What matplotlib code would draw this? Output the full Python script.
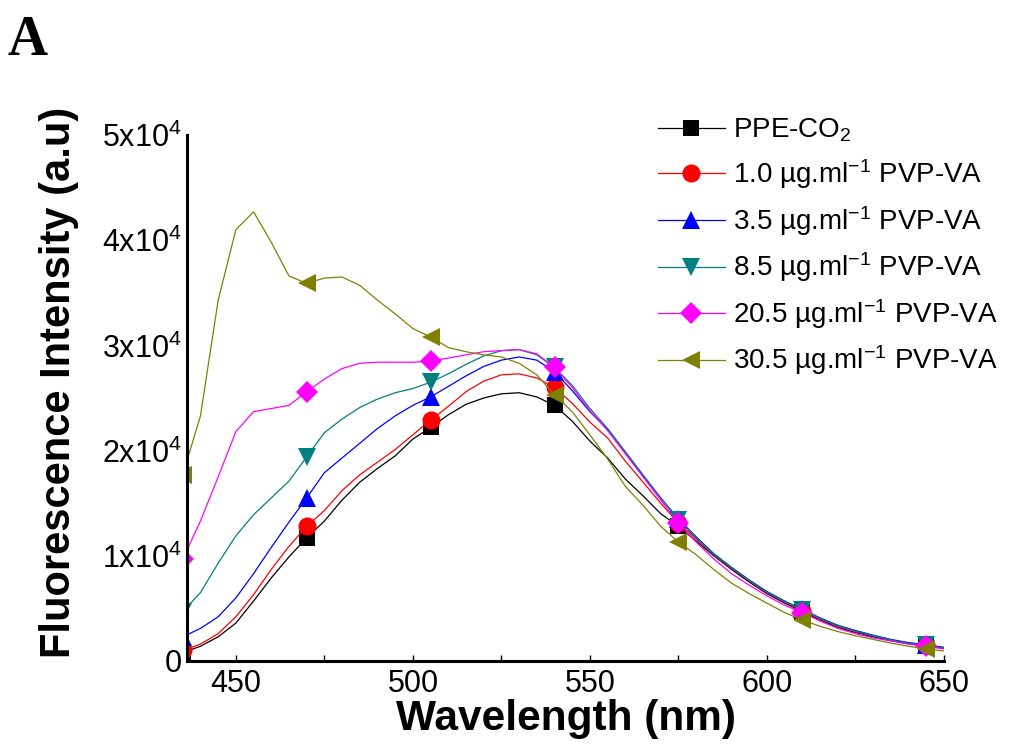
import numpy as np
import matplotlib
matplotlib.use("Agg")
import matplotlib.pyplot as plt
from matplotlib.ticker import FixedLocator, FuncFormatter

plt.rcParams['font.family'] = ['Liberation Sans', 'DejaVu Sans']
plt.rcParams['mathtext.fontset'] = 'custom'
plt.rcParams['mathtext.rm'] = 'Liberation Sans'
plt.rcParams['mathtext.it'] = 'Liberation Sans:italic'
plt.rcParams['mathtext.bf'] = 'Liberation Sans:bold'

# wavelength grid (nm), markers every 35 nm
wavelength = list(range(435, 651, 5))

ppe_co2 = [800, 1400, 2300, 3600, 5700, 7900, 9900, 11700, 13300, 15300, 17000,
           18300, 19500, 21100, 22200, 23400, 24400, 25000, 25400, 25500, 25100,
           24300, 22800, 20900, 19300, 17300, 15700, 14000, 12800, 11400, 10000,
           8700, 7500, 6400, 5500, 4700, 3900, 3200, 2700, 2300, 1950, 1650, 1450, 1200]
pvp_1_0 = [1000, 1600, 2600, 4200, 6300, 8700, 10900, 12800, 14300, 16200, 17700,
           18900, 20100, 21500, 22900, 24200, 25600, 26600, 27200, 27300, 26900,
           26000, 24500, 22700, 21200, 19000, 17000, 15000, 13100, 11600, 10100,
           8800, 7600, 6500, 5600, 4800, 4000, 3300, 2800, 2400, 2000, 1700, 1500, 1250]
pvp_3_5 = [2300, 3100, 4200, 6000, 8300, 10800, 13200, 15500, 17900, 19300, 20700,
           22100, 23300, 24300, 25100, 26100, 27100, 28000, 28600, 28900, 28600,
           27500, 25700, 23700, 22000, 19800, 17600, 15500, 13500, 11800, 10200,
           8900, 7700, 6600, 5700, 4900, 4100, 3400, 2900, 2450, 2050, 1750, 1550, 1300]
pvp_8_5 = [4700, 6500, 9300, 11900, 13900, 15500, 17100, 19400, 21700, 23000, 24100,
           24900, 25500, 25900, 26500, 27300, 28200, 29000, 29500, 29600, 29100,
           27900, 26200, 24000, 22100, 19900, 17700, 15500, 13400, 11700, 10150,
           8850, 7650, 6550, 5650, 4850, 4050, 3350, 2850, 2400, 2000, 1700, 1500, 1250]
pvp_20_5 = [9700, 13300, 17500, 21800, 23700, 24000, 24300, 25600, 26800, 27800, 28300,
            28400, 28400, 28400, 28500, 28800, 29100, 29400, 29500, 29600, 29200,
            27900, 26000, 23800, 21900, 19700, 17500, 15300, 13100, 11300, 9700,
            8300, 7200, 6200, 5300, 4600, 3800, 3100, 2600, 2200, 1900, 1600, 1400, 1150]
pvp_30_5 = [17700, 23300, 34300, 41000, 42700, 39800, 36600, 35900, 36400, 36500, 35700,
            34300, 33000, 31600, 30800, 29800, 29400, 29100, 28900, 28300, 27200,
            25300, 23700, 21500, 19200, 16600, 14800, 12800, 11300, 10100, 8700,
            7400, 6400, 5500, 4600, 3900, 3300, 2800, 2400, 2050, 1700, 1400, 1150, 950]

series = [ppe_co2, pvp_1_0, pvp_3_5, pvp_8_5, pvp_20_5, pvp_30_5]
labels = ['PPE-CO$_2$',
          '1.0 µg.ml$^{-1}$ PVP-VA',
          '3.5 µg.ml$^{-1}$ PVP-VA',
          '8.5 µg.ml$^{-1}$ PVP-VA',
          '20.5 µg.ml$^{-1}$ PVP-VA',
          '30.5 µg.ml$^{-1}$ PVP-VA']
colors = ['#000000', '#ff0000', '#0000ff', '#008080', '#ff00ff', '#808000']
markers = ['s', 'o', '^', 'v', 'D', '<']
msizes = [11, 13, 13, 13, 11, 13]

fig = plt.figure(figsize=(10.10, 7.46), dpi=100)
ax = fig.add_axes([187 / 1010, 85 / 746, (944 - 187) / 1010, (661 - 135) / 746])

for y, lab, c, m, ms in zip(series, labels, colors, markers, msizes):
    ax.plot(wavelength, y, color=c, lw=0.9, marker=m, markersize=ms,
            markevery=7, markeredgewidth=0, label=lab,
            solid_joinstyle='round')

ax.set_xlim(436.2, 650)
ax.set_ylim(0, 50000)

ax.spines['top'].set_visible(False)
ax.spines['right'].set_visible(False)
ax.spines['left'].set_linewidth(2.2)
ax.spines['bottom'].set_linewidth(2.2)

ax.xaxis.set_major_locator(FixedLocator([450, 500, 550, 600, 650]))
ax.xaxis.set_minor_locator(FixedLocator([475, 525, 575, 625]))
ax.tick_params(axis='x', which='both', direction='in', length=4, width=1,
               labelsize=22, pad=6)
ax.yaxis.set_major_locator(FixedLocator([0, 10000, 20000, 30000, 40000, 50000]))
ax.yaxis.set_major_formatter(FuncFormatter(
    lambda v, p: '0' if v == 0 else '%dx10$^{4}$' % int(round(v / 10000))))
ax.tick_params(axis='y', length=0, labelsize=22, pad=4)

ax.set_xlabel('Wavelength (nm)', fontsize=30.5, fontweight='bold', labelpad=0)
ax.set_ylabel('Fluorescence Intensity (a.u)', fontsize=30, fontweight='bold')
ax.yaxis.set_label_coords(-0.143, 0.53)

leg = ax.legend(loc='upper left', bbox_to_anchor=(658 / 1010, 1 - 117 / 746),
                bbox_transform=fig.transFigure, frameon=False, fontsize=20,
                handlelength=2.4, handletextpad=0.3, labelspacing=0.46,
                borderaxespad=0, borderpad=0)

fig.text(8 / 1010, 1 - 55 / 746, 'A', fontsize=40, fontweight='bold',
         family='Liberation Serif')

fig.savefig('out.png', dpi=100)
